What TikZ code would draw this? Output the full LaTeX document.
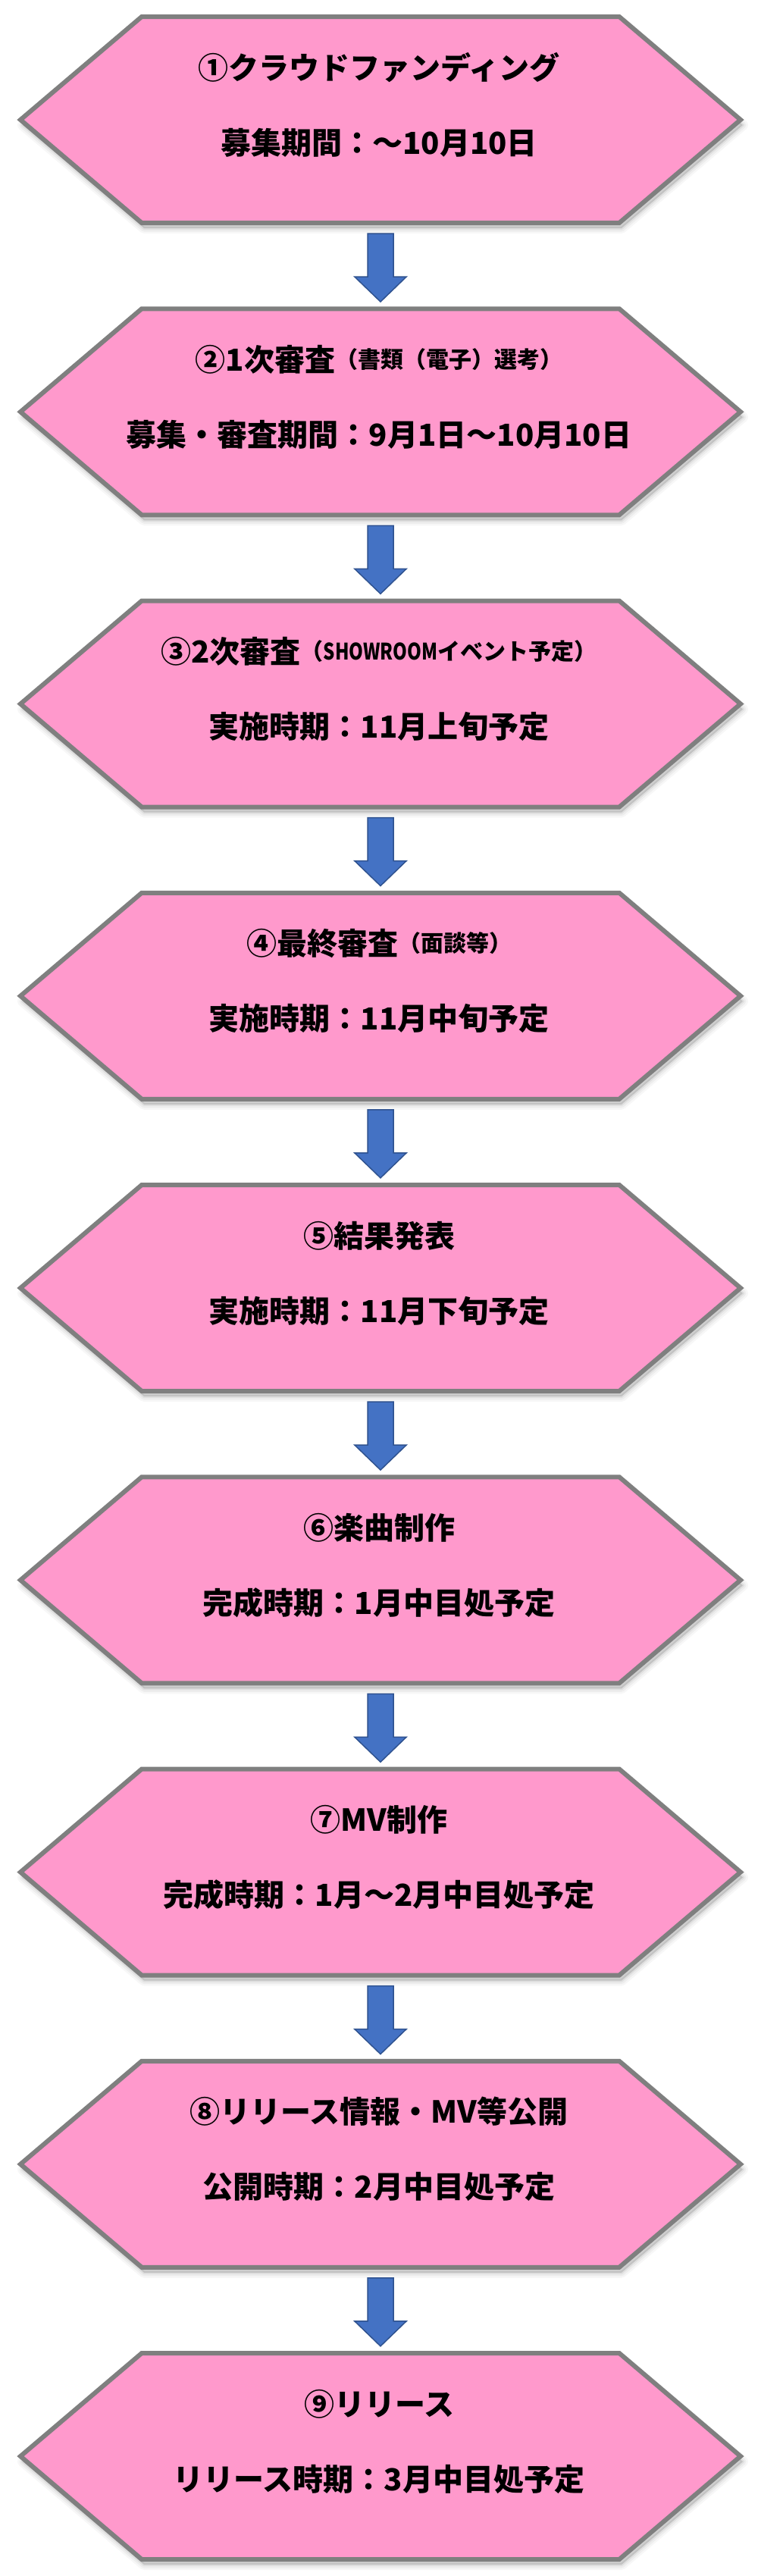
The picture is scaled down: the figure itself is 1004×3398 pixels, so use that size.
\documentclass[tikz,border=0pt]{standalone}
\usepackage{fontspec}
\setmainfont{Noto Sans CJK JP}
\usetikzlibrary{calc}
\definecolor{hexfill}{HTML}{FF99CC}
\definecolor{hexline}{HTML}{7F7F7F}
\definecolor{arrfill}{HTML}{4472C4}
\definecolor{arrline}{HTML}{2F528F}
\tikzset{
  hexbox/.style={draw=hexline, fill=hexfill, line width=6pt, line join=miter},
  blockarrow/.style={fill=arrfill, draw=arrline, line width=1.5pt, line join=miter},
  frame/.style={inner sep=0pt, minimum width=950pt, minimum height=272pt},
  lineA/.style={anchor=base, inner sep=0pt, font=\bfseries\fontsize{40}{48}\selectfont},
}
\newcommand\sml[1]{\raisebox{4pt}{\fontsize{30}{36}\selectfont #1}}
\begin{document}
\begin{tikzpicture}[x=1pt,y=-1pt]
\fill[white] (0,0) rectangle (1004,3398);
\useasboundingbox (0,0) rectangle (1004,3398);
\foreach \k in {0,...,8}{
  \pgfmathsetmacro\cy{158+\k*385.25}
  \begin{scope}[shift={(3,7)}]
    \foreach \w/\o in {14/0.03, 9/0.04, 4/0.06}{
      \filldraw[black, opacity=\o, line width=\w pt, line join=round]
        (27,\cy) -- (187,\cy-136) -- (817,\cy-136) -- (977,\cy) -- (817,\cy+136) -- (187,\cy+136) -- cycle;
    }
  \end{scope}
  \draw[hexbox] (27,\cy) -- (187,\cy-136) -- (817,\cy-136) -- (977,\cy) -- (817,\cy+136) -- (187,\cy+136) -- cycle;
  \node[frame] (b\k) at (502,\cy) {};
}
\foreach \k in {0,...,7}{
  \pgfmathtruncatemacro\n{\k+1}
  \draw[blockarrow] ($(b\k.south)+(-17,14)$) -- ($(b\k.south)+(17,14)$) -- ($(b\k.south)+(17,71)$) -- ($(b\k.south)+(34,71)$) -- ($(b\n.north)+(0,-9)$) -- ($(b\k.south)+(-34,71)$) -- ($(b\k.south)+(-17,71)$) -- cycle;
}
\node[lineA] (t0a) at ($(b0.center)+(-2,-54)$) {①クラウドファンディング};
\node[lineA] (t0b) at ($(b0.center)+(-2,45)$) {募集期間：～10月10日};
\node[lineA] (t1a) at ($(b1.center)+(-2,-54)$) {②1次審査\sml{（書類（電子）選考）}};
\node[lineA] (t1b) at ($(b1.center)+(-2,45)$) {募集・審査期間：9月1日～10月10日};
\node[lineA] (t2a) at ($(b2.center)+(-2,-54)$) {③2次審査\sml{（\scalebox{0.8}[1]{SHOWROOM}イベント予定）}};
\node[lineA] (t2b) at ($(b2.center)+(-2,45)$) {実施時期：11月上旬予定};
\node[lineA] (t3a) at ($(b3.center)+(-2,-54)$) {④最終審査\sml{（面談等）}};
\node[lineA] (t3b) at ($(b3.center)+(-2,45)$) {実施時期：11月中旬予定};
\node[lineA] (t4a) at ($(b4.center)+(-2,-54)$) {⑤結果発表};
\node[lineA] (t4b) at ($(b4.center)+(-2,45)$) {実施時期：11月下旬予定};
\node[lineA] (t5a) at ($(b5.center)+(-2,-54)$) {⑥楽曲制作};
\node[lineA] (t5b) at ($(b5.center)+(-2,45)$) {完成時期：1月中目処予定};
\node[lineA] (t6a) at ($(b6.center)+(-2,-54)$) {⑦MV制作};
\node[lineA] (t6b) at ($(b6.center)+(-2,45)$) {完成時期：1月～2月中目処予定};
\node[lineA] (t7a) at ($(b7.center)+(-2,-54)$) {⑧リリース情報・MV等公開};
\node[lineA] (t7b) at ($(b7.center)+(-2,45)$) {公開時期：2月中目処予定};
\node[lineA] (t8a) at ($(b8.center)+(-2,-54)$) {⑨リリース};
\node[lineA] (t8b) at ($(b8.center)+(-2,45)$) {リリース時期：3月中目処予定};
\end{tikzpicture}
\end{document}
